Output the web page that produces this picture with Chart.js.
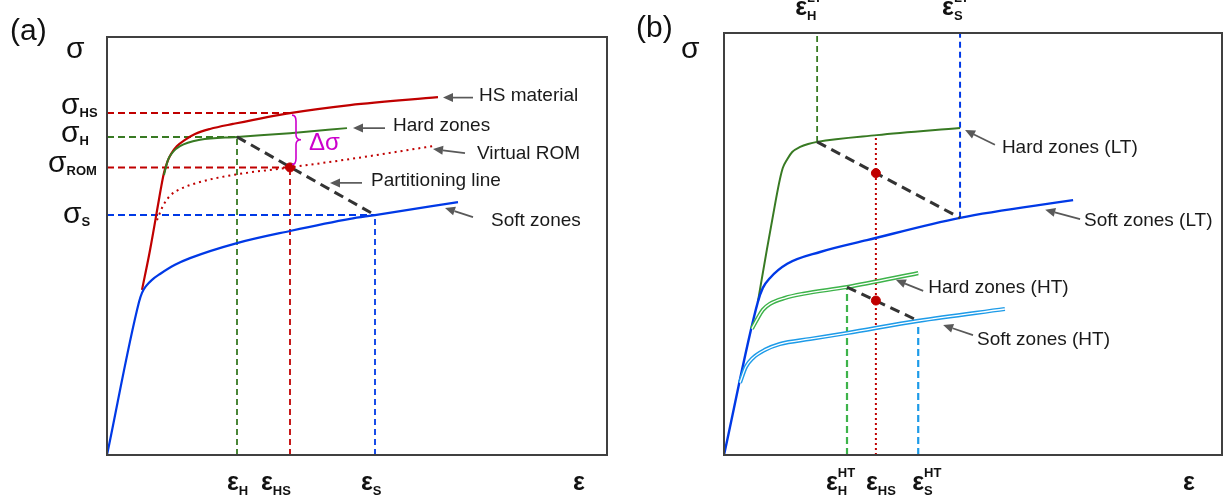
<!DOCTYPE html>
<html>
<head>
<meta charset="utf-8">
<script src="https://cdn.jsdelivr.net/npm/chart.js@4.4.1/dist/chart.umd.min.js"></script>
<style>
  html, body { margin: 0; background: #fff; overflow: hidden; }
  #wrap { position: relative; width: 1223px; height: 500px; }
  canvas { position: absolute; top: 0; display: block; }
  #chartA { left: 0; }
  #chartB { left: 612px; }
</style>
</head>
<body>
<div id="wrap">
  <canvas id="chartA" width="612" height="500"></canvas>
  <canvas id="chartB" width="611" height="500"></canvas>
</div>
<script>
// strain (eps) / stress (sigma) in arbitrary units, both axes 0..100

// ---- panel (a) ----
const softA = [[0, 0], [6.4, 36.6], [7.0, 38.8], [7.8, 40.4], [9.0, 41.9], [10.6, 43.3],
  [13.6, 45.5], [16.6, 47.1], [26.0, 50.7], [36.6, 53.6], [48.6, 56.5], [53.6, 57.4], [70.2, 60.5]];
const hsA = [[7.0, 39.5], [8.6, 49.0], [10.2, 59.8], [10.8, 63.9], [11.4, 67.5], [12.0, 69.9],
  [12.8, 72.0], [14.0, 73.9], [15.6, 75.4], [17.6, 76.8], [20.6, 78.0], [25.2, 79.2],
  [36.6, 81.8], [48.6, 83.7], [66.2, 85.6]];
const hardA = [[11.4, 67.0], [12.2, 70.6], [13.2, 72.5], [14.6, 73.9], [18.6, 75.4],
  [26.0, 76.1], [36.6, 77.0], [48.0, 78.2]];
const romA = [[10.0, 56.2], [11.2, 59.6], [12.6, 62.0], [14.6, 63.6], [18.6, 65.3],
  [25.2, 67.0], [36.6, 68.8], [48.6, 70.8], [65.2, 73.9]];
const strainA = [26.0, 36.6, 53.6];        // eps_H, eps_HS, eps_S
const stressA = [81.8, 76.1, 68.8, 57.4];  // sig_HS, sig_H, sig_ROM, sig_S

// ---- panel (b) ----
const softLT = [[0, 0], [6.8, 36.3], [7.8, 39.6], [9.2, 41.9], [12.7, 45.3], [19.3, 48.1],
  [28.7, 50.9], [47.4, 56.2], [70.1, 60.4]];
const hardLT = [[6.8, 36.3], [8.6, 48.6], [10.4, 60.4], [11.2, 65.2], [11.8, 68.0], [12.7, 70.1],
  [13.7, 71.8], [15.3, 73.0], [16.9, 73.7], [18.7, 74.2], [30.7, 75.8], [47.4, 77.5]];
const hardHT = [[5.6, 29.9], [6.8, 32.5], [7.8, 34.4], [9.2, 35.8], [12.2, 37.2], [15.9, 38.2],
  [24.7, 39.8], [39.0, 43.1]];
const softHT = [[3.2, 17.1], [4.4, 20.9], [5.8, 23.0], [8.2, 24.9], [11.2, 26.3], [17.3, 27.5],
  [24.7, 28.9], [39.0, 31.8], [56.4, 34.6]];
const strainLT = [18.7, 47.4];   // eps_H^LT, eps_S^LT
const strainHT = [24.7, 39.0];   // eps_H^HT, eps_S^HT
const strainHSb = 30.5;
const dotsB = [[30.5, 66.8], [30.5, 36.6]];

const RED = '#c00000', DGREEN = '#387a23', BLUE = '#0039e6';
const LGREEN = '#3db34a', LBLUE = '#1d9be8', MAGENTA = '#cc00cc', PART = '#333333';
const FONT = "'Liberation Sans', Arial, sans-serif";

const pts = a => a.map(p => ({ x: p[0], y: p[1] }));
const curve = (data, color, width) => ({
  data: pts(data), borderColor: color, borderWidth: width || 2,
  cubicInterpolationMode: 'monotone', pointRadius: 0, fill: false
});
const dashed = (data, color, dash, width) => ({
  data: pts(data), borderColor: color, borderWidth: width || 2,
  borderDash: dash, pointRadius: 0, fill: false, tension: 0
});
const dots = (data) => ({
  data: pts(data), showLine: false, pointRadius: 4.5, pointBackgroundColor: RED,
  pointBorderColor: RED
});
// list order = paint order (first drawn at the bottom)
function stack(list) {
  list.forEach((d, i) => { d.order = list.length - i; });
  return list;
}

function arrow(ctx, x1, y1, x2, y2) {
  const a = Math.atan2(y2 - y1, x2 - x1), L = 10, W = 4.5;
  ctx.save();
  ctx.strokeStyle = '#595959'; ctx.fillStyle = '#595959'; ctx.lineWidth = 1.7;
  ctx.beginPath();
  ctx.moveTo(x1, y1);
  ctx.lineTo(x2 - L * Math.cos(a), y2 - L * Math.sin(a));
  ctx.stroke();
  ctx.beginPath();
  ctx.moveTo(x2, y2);
  ctx.lineTo(x2 - L * Math.cos(a) + W * Math.sin(a), y2 - L * Math.sin(a) - W * Math.cos(a));
  ctx.lineTo(x2 - L * Math.cos(a) - W * Math.sin(a), y2 - L * Math.sin(a) + W * Math.cos(a));
  ctx.closePath();
  ctx.fill();
  ctx.restore();
}

// symbol with optional subscript / superscript, x = left edge, y = baseline
function symbol(ctx, x, y, main, sub, sup, size, subDy, weight) {
  ctx.save();
  ctx.fillStyle = '#111';
  ctx.textBaseline = 'alphabetic';
  ctx.textAlign = 'left';
  ctx.font = (weight || '') + ' ' + size + 'px ' + FONT;
  ctx.fillText(main, x, y);
  const w = ctx.measureText(main).width;
  ctx.font = 'bold 13px ' + FONT;
  if (sub) ctx.fillText(sub, x + w, y + (subDy || 3));
  if (sup) ctx.fillText(sup, x + w, y - 13);
  ctx.restore();
}
const eps = (ctx, x, y, sub, sup) => symbol(ctx, x, y, '\u03b5', sub, sup, 25, 5, 'bold');

function callouts(chart, list) {
  const ctx = chart.ctx, xs = chart.scales.x, ys = chart.scales.y;
  const X = v => xs.getPixelForValue(v), Y = v => ys.getPixelForValue(v);
  list.forEach(c => {
    arrow(ctx, X(c.tail[0]), Y(c.tail[1]), X(c.tip[0]), Y(c.tip[1]));
    ctx.save();
    ctx.fillStyle = '#1a1a1a';
    ctx.font = '19px ' + FONT;
    ctx.textBaseline = 'middle';
    ctx.fillText(c.text, X(c.at[0]), Y(c.at[1]));
    ctx.restore();
  });
}

function frame(chart) {
  const { ctx, chartArea: a } = chart;
  ctx.save();
  ctx.strokeStyle = '#404040';
  ctx.lineWidth = 2;
  ctx.strokeRect(a.left, a.top, a.right - a.left, a.bottom - a.top);
  ctx.restore();
}

function baseOptions(padding) {
  return {
    responsive: false, animation: false,
    layout: { padding, autoPadding: false },
    plugins: { legend: { display: false }, tooltip: { enabled: false } },
    scales: {
      x: { type: 'linear', min: 0, max: 100, display: false },
      y: { type: 'linear', min: 0, max: 100, display: false }
    },
    elements: { line: { borderCapStyle: 'butt' } }
  };
}

// ---------------- (a) ----------------
const [eH, eHS, eS] = strainA;
const [sHS, sH, sROM, sS] = stressA;

const dsA = stack([
  dashed([[0, sHS], [eHS, sHS]], RED, [7, 4]),
  dashed([[0, sH], [eH, sH]], DGREEN, [7, 4]),
  dashed([[0, sROM], [eHS, sROM]], RED, [7, 4]),
  dashed([[0, sS], [eS, sS]], BLUE, [7, 4]),
  dashed([[eH, 0], [eH, sH]], DGREEN, [6, 4], 1.8),
  dashed([[eHS, 0], [eHS, sROM]], RED, [6, 4], 1.8),
  dashed([[eS, 0], [eS, sS]], BLUE, [6, 4], 1.8),
  Object.assign(curve(romA, RED, 2), { borderDash: [2, 4] }),
  curve(hsA, RED, 2.2),
  curve(hardA, DGREEN, 2),
  curve(softA, BLUE, 2.2),
  dashed([[eH, sH], [eS, sS]], PART, [10, 6], 3),
  dots([[eHS, sROM]])
]);

const calloutsA = [
  { text: 'HS material', at: [74.4, 85.9], tail: [73.2, 85.5], tip: [67.2, 85.5] },
  { text: 'Hard zones', at: [57.2, 78.7], tail: [55.6, 78.2], tip: [49.2, 78.2] },
  { text: 'Virtual ROM', at: [74.0, 72.0], tail: [71.6, 72.2], tip: [65.2, 73.2] },
  { text: 'Partitioning line', at: [52.8, 65.6], tail: [51.0, 65.1], tip: [44.6, 65.1] },
  { text: 'Soft zones', at: [76.8, 56.0], tail: [73.2, 56.9], tip: [67.6, 59.1] }
];

const panelA = {
  id: 'panelA',
  afterDraw(chart) {
    const ctx = chart.ctx, xs = chart.scales.x, ys = chart.scales.y, a = chart.chartArea;
    const X = v => xs.getPixelForValue(v), Y = v => ys.getPixelForValue(v);
    frame(chart);

    // brace spanning the stress gap at eps_HS
    const bx = X(eHS) + 6, yt = Y(sHS) + 2, yb = Y(sROM) - 3, ym = (yt + yb) / 2;
    ctx.save();
    ctx.strokeStyle = MAGENTA; ctx.lineWidth = 1.6;
    ctx.beginPath();
    ctx.moveTo(bx - 4, yt);
    ctx.quadraticCurveTo(bx, yt, bx, yt + 6);
    ctx.lineTo(bx, ym - 5);
    ctx.quadraticCurveTo(bx, ym, bx + 5, ym);
    ctx.quadraticCurveTo(bx, ym, bx, ym + 5);
    ctx.lineTo(bx, yb - 6);
    ctx.quadraticCurveTo(bx, yb, bx - 4, yb);
    ctx.stroke();
    ctx.fillStyle = MAGENTA;
    ctx.font = '24px ' + FONT;
    ctx.textBaseline = 'middle';
    ctx.fillText('\u0394\u03c3', X(eHS) + 19, ym + 4);
    ctx.restore();

    callouts(chart, calloutsA);

    ctx.save();
    ctx.fillStyle = '#111';
    ctx.font = '30px ' + FONT;
    ctx.fillText('(a)', 10, 40);
    ctx.restore();
    symbol(ctx, 66, 58, '\u03c3', '', '', 30);
    symbol(ctx, a.left - 46, Y(sHS) + 1, '\u03c3', 'HS', '', 30);
    symbol(ctx, a.left - 46, Y(sH) + 5, '\u03c3', 'H', '', 30);
    symbol(ctx, a.left - 59, Y(sROM) + 5, '\u03c3', 'ROM', '', 30);
    symbol(ctx, a.left - 44, Y(sS) + 8, '\u03c3', 'S', '', 30);

    const by = a.bottom + 35;
    eps(ctx, X(eH) - 10, by, 'H');
    eps(ctx, X(eHS) - 29, by, 'HS');
    eps(ctx, X(eS) - 14, by, 'S');
    eps(ctx, 573, by);
  }
};

new Chart(document.getElementById('chartA'), {
  type: 'line',
  data: { datasets: dsA },
  options: baseOptions({ left: 107, top: 37, right: 5, bottom: 45 }),
  plugins: [panelA]
});

// ---------------- (b) ----------------
const [eHL, eSL] = strainLT;
const [eHH, eSH] = strainHT;
const sHL = 74.2, sSL = 56.2, sHH = 39.8, sSH = 31.8;

// HT curves are drawn as double lines: wide colour stroke with a thin white core
const dsB = stack([
  dashed([[eHL, sHL], [eHL, 100]], DGREEN, [6, 4], 1.8),
  dashed([[eSL, sSL], [eSL, 100]], BLUE, [6, 4], 2),
  dashed([[eHH, 0], [eHH, sHH]], LGREEN, [7, 4], 2.2),
  dashed([[eSH, 0], [eSH, sSH]], LBLUE, [7, 4], 2.2),
  dashed([[strainHSb, 0], [strainHSb, 75.8]], RED, [2, 3], 2),
  curve(hardLT, DGREEN, 2),
  curve(softLT, BLUE, 2.4),
  curve(hardHT, LGREEN, 4.2),
  curve(hardHT, '#ffffff', 1.3),
  curve(softHT, LBLUE, 4.2),
  curve(softHT, '#ffffff', 1.3),
  dashed([[eHL, sHL], [eSL, sSL]], PART, [10, 6], 3),
  dashed([[eHH, sHH], [eSH, sSH]], PART, [10, 6], 3),
  dots(dotsB)
]);

const calloutsB = [
  { text: 'Hard zones (LT)', at: [55.8, 72.7], tail: [54.4, 73.5], tip: [48.4, 77.0] },
  { text: 'Soft zones (LT)', at: [72.3, 55.5], tail: [71.5, 55.9], tip: [64.5, 58.1] },
  { text: 'Hard zones (HT)', at: [41.0, 39.6], tail: [40.0, 38.9], tip: [34.5, 41.5] },
  { text: 'Soft zones (HT)', at: [50.8, 27.3], tail: [50.0, 28.4], tip: [44.0, 30.8] }
];

const panelB = {
  id: 'panelB',
  afterDraw(chart) {
    const ctx = chart.ctx, xs = chart.scales.x, a = chart.chartArea;
    const X = v => xs.getPixelForValue(v);
    frame(chart);
    callouts(chart, calloutsB);

    ctx.save();
    ctx.fillStyle = '#111';
    ctx.font = '30px ' + FONT;
    ctx.fillText('(b)', 24, 37);
    ctx.restore();
    symbol(ctx, 69, 58, '\u03c3', '', '', 30);

    eps(ctx, X(eHL) - 22, 15, 'H', 'LT');
    eps(ctx, X(eSL) - 18, 15, 'S', 'LT');

    const by = a.bottom + 35;
    eps(ctx, X(eHH) - 21, by, 'H', 'HT');
    eps(ctx, X(strainHSb) - 10, by, 'HS');
    eps(ctx, X(eSH) - 6, by, 'S', 'HT');
    eps(ctx, 571, by);
  }
};

new Chart(document.getElementById('chartB'), {
  type: 'line',
  data: { datasets: dsB },
  options: baseOptions({ left: 112, top: 33, right: 1, bottom: 45 }),
  plugins: [panelB]
});
</script>
</body>
</html>
